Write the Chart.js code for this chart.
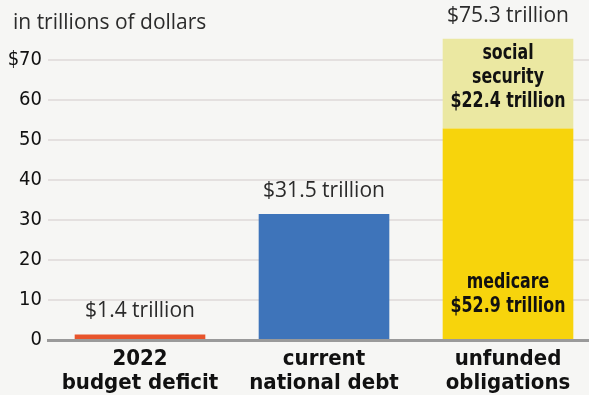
<!DOCTYPE html>
<html>
<head>
<meta charset="utf-8">
<script src="https://cdn.jsdelivr.net/npm/chart.js@4/dist/chart.umd.min.js"></script>
<style>
  html, body { margin: 0; padding: 0; background: #f6f6f4; overflow: hidden; }
  #wrap { width: 600px; height: 395px; }
</style>
</head>
<body>
<div id="wrap"><canvas id="debtChart"></canvas></div>
<script>
const categories = [["2022", "budget deficit"], ["current", "national debt"], ["unfunded", "obligations"]];
const debtValues = [1.4, 31.5, null];
const medicareValues = [null, null, 52.9];
const socialSecurityValues = [null, null, 22.4];
const yTicks = [0, 10, 20, 30, 40, 50, 60, 70];

const barColors = ["#e8542b", "#3e74ba"];
const medicareColor = "#f7d40c";
const socialColor = "#ebe8a2";

const narrow = "'Liberation Sans Narrow', 'DejaVu Sans Condensed', sans-serif";
const plain = "'Open Sans', Lato, sans-serif";

function fmt(v) {
  return "$" + v.toFixed(1) + " trillion";
}

// squeeze bold text sideways so it reads like a condensed face
function narrowText(ctx, text, x, y) {
  ctx.save();
  ctx.translate(x, y);
  ctx.scale(0.8, 1);
  ctx.fillText(text, 0, 0);
  ctx.restore();
}

// value labels above bars, names inside the stacked segments, unit note
const labelPlugin = {
  id: "labels",
  afterDatasetsDraw(chart) {
    const ctx = chart.ctx;
    ctx.save();
    ctx.textAlign = "center";
    ctx.textBaseline = "middle";
    ctx.fillStyle = "#2b2b2b";
    ctx.font = "21px " + plain;

    const base = chart.getDatasetMeta(0);
    debtValues.forEach((v, i) => {
      if (v == null) return;
      const bar = base.data[i];
      ctx.fillText(fmt(v), bar.x, bar.y - 23);
    });

    const med = chart.getDatasetMeta(1).data[2];
    const soc = chart.getDatasetMeta(2).data[2];
    const total = medicareValues[2] + socialSecurityValues[2];
    ctx.fillText(fmt(total), soc.x, soc.y - 23);

    ctx.fillStyle = "#111";
    ctx.font = "bold 22px " + narrow;
    ["social", "security", fmt(socialSecurityValues[2])].forEach((t, k) => {
      narrowText(ctx, t, soc.x, soc.y + 14 + k * 24);
    });
    ["medicare", fmt(medicareValues[2])].forEach((t, k) => {
      narrowText(ctx, t, med.x, med.base - 57 + k * 24);
    });

    ctx.textAlign = "left";
    ctx.fillStyle = "#2b2b2b";
    ctx.font = "21px " + plain;
    ctx.fillText("in trillions of dollars", 13, 23);
    ctx.restore();
  }
};

new Chart("debtChart", {
  type: "bar",
  data: {
    labels: categories,
    datasets: [{
      data: debtValues,
      backgroundColor: barColors
    }, {
      data: medicareValues,
      backgroundColor: medicareColor
    }, {
      data: socialSecurityValues,
      backgroundColor: socialColor
    }]
  },
  options: {
    responsive: true,
    maintainAspectRatio: false,
    animation: false,
    layout: { padding: { top: 20, left: 0, right: 0, bottom: 0 } },
    plugins: {
      legend: { display: false },
      tooltip: { enabled: false }
    },
    datasets: {
      bar: { categoryPercentage: 1, barPercentage: 0.71, skipNull: true }
    },
    scales: {
      x: {
        stacked: true,
        grid: { display: false, drawTicks: false },
        border: { color: "#9a9a9a", width: 3 },
        ticks: {
          padding: 7,
          color: "#111",
          font: { family: narrow, size: 22, weight: "bold", lineHeight: 1.1 }
        },
        afterFit(scale) { scale.height = 55; }
      },
      y: {
        stacked: true,
        min: 0,
        max: 80,
        afterBuildTicks(scale) {
          scale.ticks = yTicks.map(v => ({ value: v }));
        },
        grid: { color: "#e4e0df", lineWidth: 2, drawTicks: false },
        border: { display: false },
        ticks: {
          padding: 6,
          color: "#111",
          font: { family: narrow, size: 20 },
          callback: v => (v === 70 ? "$" + v : v)
        },
        afterFit(scale) { scale.width = 48; }
      }
    }
  },
  plugins: [labelPlugin]
});
</script>
</body>
</html>
